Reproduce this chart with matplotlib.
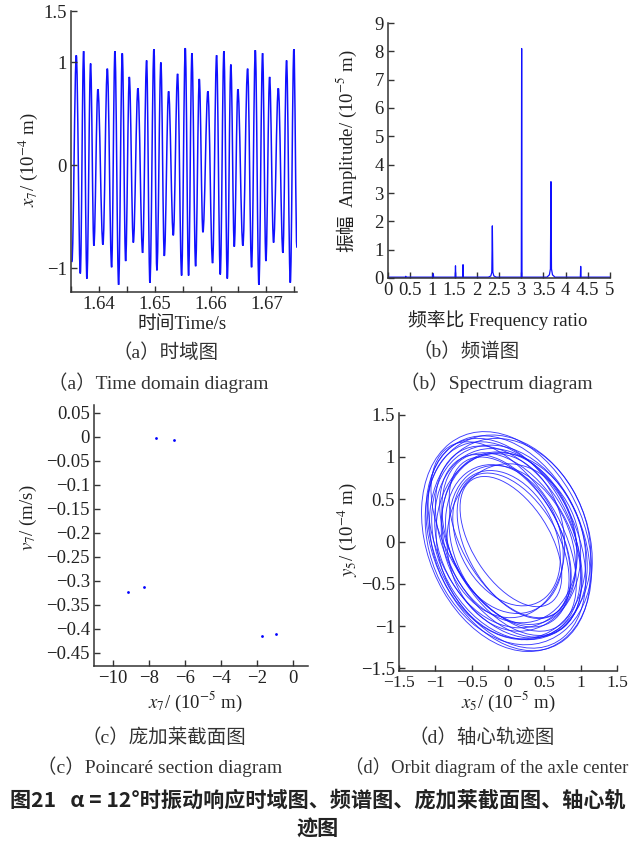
import numpy as np
import matplotlib.pyplot as plt
from matplotlib.path import Path
from matplotlib.patches import PathPatch, Ellipse
from matplotlib.ticker import FuncFormatter, MultipleLocator

plt.rcParams['font.family'] = ['Liberation Serif', 'Noto Sans CJK SC']
plt.rcParams['mathtext.fontset'] = 'stix'
plt.rcParams['axes.unicode_minus'] = True

# (a) time domain: peaks and troughs of x7
t_ext = [1.63516, 1.63595, 1.63667, 1.63726, 1.63785, 1.63851, 1.63910, 1.63982,
         1.64072, 1.64151, 1.64228, 1.64287, 1.64353, 1.64419, 1.64479, 1.64545,
         1.64617, 1.64699, 1.64783, 1.64855, 1.64914, 1.64986, 1.65039, 1.65111,
         1.65172, 1.65249, 1.65333, 1.65410, 1.65482, 1.65548, 1.65607, 1.65667,
         1.65733, 1.65799, 1.65864, 1.65953, 1.66037, 1.66109, 1.66175, 1.66240,
         1.66301, 1.66365, 1.66426, 1.66491, 1.66580, 1.66665, 1.66736, 1.66803,
         1.66867, 1.66933, 1.66993, 1.67059, 1.67130, 1.67215, 1.67297, 1.67363,
         1.67430, 1.67494, 1.67548]
x7_ext = [-0.94, 1.07, -1.05, 1.11, -1.10, 0.99, -0.78, 0.74,
          -0.77, 0.94, -0.99, 1.11, -1.16, 1.09, -0.93, 0.86,
          -0.75, 0.75, -0.85, 1.02, -1.14, 1.13, -1.02, 1.00,
          -0.88, 0.72, -0.68, 0.89, -1.07, 1.14, -1.07, 1.09,
          -0.98, 0.84, -0.65, 0.72, -0.95, 1.07, -1.06, 1.11,
          -1.10, 0.98, -0.79, 0.74, -0.78, 0.94, -0.99, 1.12,
          -1.16, 1.09, -0.93, 0.86, -0.75, 0.75, -0.85, 1.02,
          -1.14, 1.13, -0.80]

# (b) spectrum peaks
freq_pk = [0.40, 1.02, 1.52, 1.69, 2.35, 3.01, 3.67, 4.34]
amp_pk = [0.06, 0.15, 0.43, 0.47, 1.84, 8.10, 3.40, 0.41]
skirt_pk = [0.0, 0.0, 0.0, 0.0, 0.20, 0.0, 0.32, 0.0]
amp_floor = 0.03

# (c) Poincare section points
x7_pc = [-7.63, -6.59, -9.17, -8.28, -1.74, -0.93]
v7_pc = [-0.002, -0.006, -0.323, -0.314, -0.416, -0.412]

# (d) orbit: loops as (x amplitude, y amplitude, x-y correlation, centre)
ax_loop = [0.70, 0.74, 0.77, 0.81, 0.84, 0.87, 0.90, 0.93, 0.96, 0.98, 1.01,
           1.03, 1.05, 1.07, 1.09, 1.11, 1.13, 1.15, 1.17, 0.92, 1.00, 0.85]
ay_loop = [0.77, 0.80, 0.86, 0.88, 0.95, 0.94, 1.02, 1.01, 1.08, 1.06, 1.13,
           1.10, 1.18, 1.15, 1.22, 1.19, 1.27, 1.24, 1.30, 0.99, 1.12, 0.97]
r_loop = [-0.52, -0.30, -0.46, -0.22, -0.48, -0.27, -0.42, -0.18, -0.40, -0.20, -0.38,
          -0.15, -0.35, -0.24, -0.33, -0.17, -0.30, -0.20, -0.26, -0.08, -0.50, -0.12]
cx_loop = [0.04, -0.02, 0.07, -0.05, 0.03, 0.06, -0.04, 0.02, 0.05, -0.03, 0.01,
           0.04, -0.05, 0.02, -0.02, 0.03, 0.00, 0.01, -0.02, 0.08, -0.06, -0.07]
cy_loop = [0.00, 0.04, -0.05, 0.03, 0.05, -0.04, 0.01, 0.05, -0.03, 0.04, 0.00,
           -0.05, 0.04, -0.01, -0.04, 0.03, -0.02, 0.02, 0.00, -0.07, 0.06, 0.07]

W, H = 636, 842
fig = plt.figure(figsize=(W / 100, H / 100), dpi=100)

def box(l, t, r, b):
    return [l / W, 1 - b / H, (r - l) / W, (b - t) / H]

def tick_text(v, p):
    v = round(v, 4)
    if abs(v) < 1e-9:
        v = 0.0
    return ('%g' % v).replace('-', '\u2212')

fmt = FuncFormatter(tick_text)
ink = '#222222'

def style(ax):
    for s in ['top', 'right']:
        ax.spines[s].set_visible(False)
    for s in ['left', 'bottom']:
        ax.spines[s].set_color('#333333')
        ax.spines[s].set_linewidth(1.1)
    ax.tick_params(which='both', direction='in', length=4, width=1, colors='#333333',
                   labelsize=13.5, labelcolor=ink, pad=3)
    ax.xaxis.set_major_formatter(fmt)
    ax.yaxis.set_major_formatter(fmt)
    ax.patch.set_alpha(0)

# (a)
ax1 = fig.add_axes(box(71, 11, 297, 292))
verts = [(t_ext[0], x7_ext[0])]
codes = [Path.MOVETO]
k = 0.364
for i in range(len(t_ext) - 1):
    t0, t1 = t_ext[i], t_ext[i + 1]
    v0, v1 = x7_ext[i], x7_ext[i + 1]
    dt = t1 - t0
    verts += [(t0 + k * dt, v0), (t1 - k * dt, v1), (t1, v1)]
    codes += [Path.CURVE4] * 3
ax1.add_patch(PathPatch(Path(verts, codes), fill=False, ec='#1010ff', lw=1.1))
ax1.set_xlim(1.635, 1.6755)
ax1.set_ylim(-1.23, 1.5)
ax1.set_xticks([1.64, 1.65, 1.66, 1.67])
ax1.xaxis.set_minor_locator(MultipleLocator(0.005))
ax1.set_yticks([-1, 0, 1, 1.5])
style(ax1)

# (b)
ax2 = fig.add_axes(box(388, 23, 610, 278))
fx, fy = [0.0], [amp_floor]
for f, a, s in zip(freq_pk, amp_pk, skirt_pk):
    if s > 0:
        fx += [f - 0.09, f - 0.035, f - 0.012, f, f + 0.012, f + 0.035, f + 0.09]
        fy += [amp_floor, s * 0.35, s, a, s, s * 0.35, amp_floor]
    else:
        fx += [f - 0.008, f, f + 0.008]
        fy += [amp_floor, a, amp_floor]
fx.append(5.0)
fy.append(amp_floor)
ax2.plot(fx, fy, color='#1010ff', lw=0.9)
ax2.set_xlim(0, 5)
ax2.set_ylim(0, 9)
ax2.set_xticks(np.arange(0, 5.01, 0.5))
ax2.set_yticks(range(10))
style(ax2)

# (c)
ax3 = fig.add_axes(box(94, 405, 308, 666))
ax3.plot(x7_pc, v7_pc, 'o', color='#0000ff', ms=2.0, mew=0)
ax3.set_xlim(-11.05, 0.82)
ax3.set_ylim(-0.478, 0.066)
ax3.set_xticks([-10, -8, -6, -4, -2, 0])
ax3.set_yticks(np.arange(-0.45, 0.051, 0.05))
style(ax3)

# (d)
ax4 = fig.add_axes(box(399, 413, 617, 671))
for a_x, a_y, r, cx, cy in zip(ax_loop, ay_loop, r_loop, cx_loop, cy_loop):
    M = np.array([[a_x ** 2, a_x * a_y * r], [a_x * a_y * r, a_y ** 2]])
    w, V = np.linalg.eigh(M)
    ang = np.degrees(np.arctan2(V[1, 1], V[0, 1]))
    ax4.add_patch(Ellipse((cx, cy), 2 * np.sqrt(w[1]), 2 * np.sqrt(w[0]), angle=ang,
                          fill=False, ec='#1a1aff', lw=0.65, alpha=0.85))
ax4.set_xlim(-1.5, 1.5)
ax4.set_ylim(-1.53, 1.52)
ax4.set_xticks(np.arange(-1.5, 1.51, 0.5))
ax4.set_yticks(np.arange(-1.5, 1.51, 0.5))
style(ax4)
ax4.tick_params(axis='x', labelsize=12.6)

# axis labels
fs = 13.5
fig.text(28 / W, 1 - 160 / H, r'$x_7$/ (10$^{-4}$ m)', rotation=90, ha='center', va='center', fontsize=fs, color=ink)
fig.text(182 / W, 1 - 325 / H, '时间Time/s', ha='center', va='center', fontsize=fs, color=ink)
fig.text(347 / W, 1 - 214 / H, '振幅', rotation=90, ha='center', va='top', fontsize=fs, color=ink)
fig.text(347 / W, 1 - 208 / H, r'Amplitude/ (10$^{-5}$ m)', rotation=90, ha='center', va='bottom', fontsize=fs, color=ink)
fig.text(498 / W, 1 - 320 / H, '频率比 Frequency ratio', ha='center', va='center', fontsize=fs, color=ink)
fig.text(28 / W, 1 - 518 / H, r'$v_7$/ (m/s)', rotation=90, ha='center', va='center', fontsize=fs, color=ink)
fig.text(195 / W, 1 - 702 / H, r'$x_7$/ (10$^{-5}$ m)', ha='center', va='center', fontsize=fs, color=ink)
fig.text(347 / W, 1 - 530 / H, r'$y_5$/ (10$^{-4}$ m)', rotation=90, ha='center', va='center', fontsize=fs, color=ink)
fig.text(508 / W, 1 - 702 / H, r'$x_5$/ (10$^{-5}$ m)', ha='center', va='center', fontsize=fs, color=ink)

# captions
cap = '#333333'
cs = 14
fig.text(166 / W, 1 - 353 / H, '（a）时域图', ha='center', va='center', fontsize=cs, color=cap)
fig.text(158 / W, 1 - 383 / H, '（a）Time domain diagram', ha='center', va='center', fontsize=cs, color=cap)
fig.text(466 / W, 1 - 352 / H, '（b）频谱图', ha='center', va='center', fontsize=cs, color=cap)
fig.text(496 / W, 1 - 383 / H, '（b）Spectrum diagram', ha='center', va='center', fontsize=cs, color=cap)
fig.text(164 / W, 1 - 738 / H, '（c）庞加莱截面图', ha='center', va='center', fontsize=cs, color=cap)
fig.text(160 / W, 1 - 767 / H, '（c）Poincaré section diagram', ha='center', va='center', fontsize=cs, color=cap)
fig.text(482 / W, 1 - 738 / H, '（d）轴心轨迹图', ha='center', va='center', fontsize=cs, color=cap)
fig.text(487 / W, 1 - 767 / H, '（d）Orbit diagram of the axle center', ha='center', va='center', fontsize=13.3, color=cap)

fig.text(318 / W, 1 - 800 / H, '图21   α = 12°时振动响应时域图、频谱图、庞加莱截面图、轴心轨',
         ha='center', va='center', fontsize=15.2, color=ink, fontweight='bold',
         family=['Noto Sans CJK SC', 'DejaVu Sans'])
fig.text(318 / W, 1 - 829 / H, '迹图', ha='center', va='center', fontsize=15.2, color=ink,
         fontweight='bold', family=['Noto Sans CJK SC', 'DejaVu Sans'])

fig.savefig('out.png', dpi=100, facecolor='white')
